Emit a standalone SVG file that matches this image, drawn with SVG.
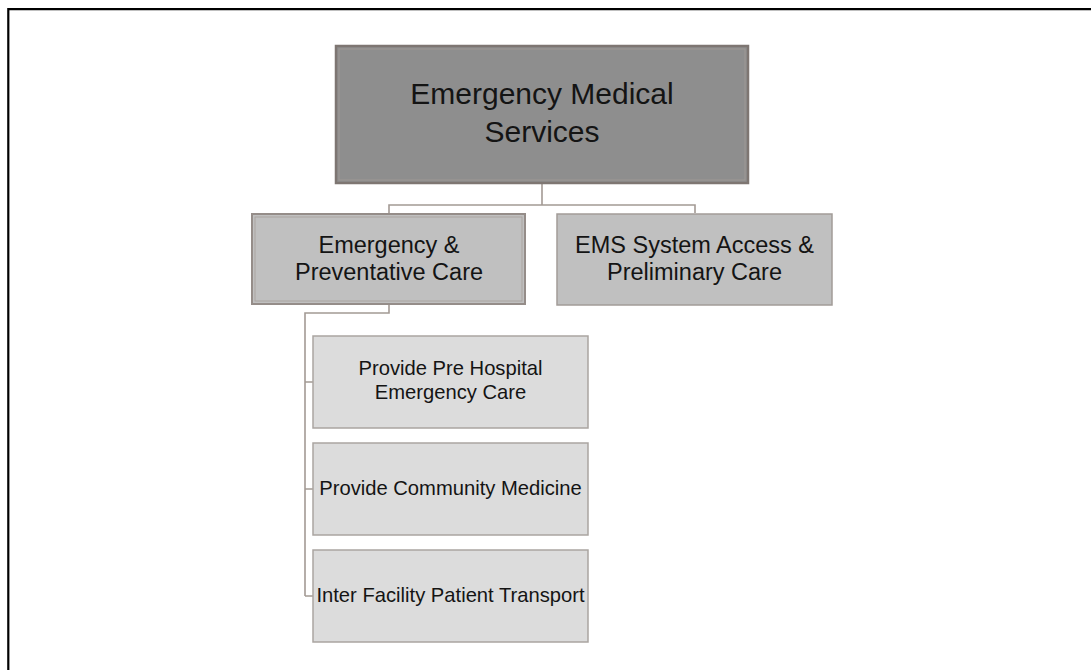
<svg xmlns="http://www.w3.org/2000/svg" width="1091" height="670" viewBox="0 0 1091 670">
<style>
text{font-family:"Liberation Sans",Arial,sans-serif;fill:#141414;text-anchor:middle}
.frame{fill:none;stroke:#000;stroke-width:2.2}
.con{fill:none;stroke:#a39a94;stroke-width:1.6}
.root{fill:#8e8e8e;stroke:#7e7672;stroke-width:2.5}
.rootin{fill:none;stroke:#9e9894;stroke-width:1}
.mid{fill:#c0c0c0;stroke:#958d89;stroke-width:2}
.midin{fill:none;stroke:#aaa4a0;stroke-width:1}
.mid2{fill:#c0c0c0;stroke:#a29c98;stroke-width:1.5}
.leaf{fill:#dcdcdc;stroke:#aaa5a1;stroke-width:1.5}
.t1{font-size:30px}
.t2{font-size:23.5px}
.t3{font-size:20.2px}
</style>
<path class="frame" d="M8.3,670 V9.2 H1091"/>
<g id="connectors">
<path class="con" d="M542,183 V205 M389,213 V205 H695 V213"/>
<path class="con" d="M389,305 V313 H305 V596 M305,382 H313 M305,489 H313 M305,596 H313"/>
</g>
<g id="root">
<rect class="root" x="336" y="46" width="412" height="137"/>
<rect class="rootin" x="339" y="49" width="406" height="131"/>
<text class="t1" x="542" y="104">Emergency Medical</text>
<text class="t1" x="542" y="142">Services</text>
</g>
<g id="emergency-preventative">
<rect class="mid" x="252" y="214" width="273" height="90"/>
<rect class="midin" x="255" y="217" width="267" height="84"/>
<text class="t2" x="389" y="253">Emergency &amp;</text>
<text class="t2" x="389" y="280">Preventative Care</text>
</g>
<g id="ems-access">
<rect class="mid2" x="557" y="214" width="275" height="91"/>
<text class="t2" x="694.5" y="253">EMS System Access &amp;</text>
<text class="t2" x="694.5" y="280">Preliminary Care</text>
</g>
<g id="pre-hospital">
<rect class="leaf" x="313" y="336" width="275" height="92"/>
<text class="t3" x="450.5" y="375">Provide Pre Hospital</text>
<text class="t3" x="450.5" y="399">Emergency Care</text>
</g>
<g id="community-medicine">
<rect class="leaf" x="313" y="443" width="275" height="92"/>
<text class="t3" x="450.5" y="495">Provide Community Medicine</text>
</g>
<g id="inter-facility">
<rect class="leaf" x="313" y="550" width="275" height="92"/>
<text class="t3" x="450.5" y="602">Inter Facility Patient Transport</text>
</g>
</svg>
